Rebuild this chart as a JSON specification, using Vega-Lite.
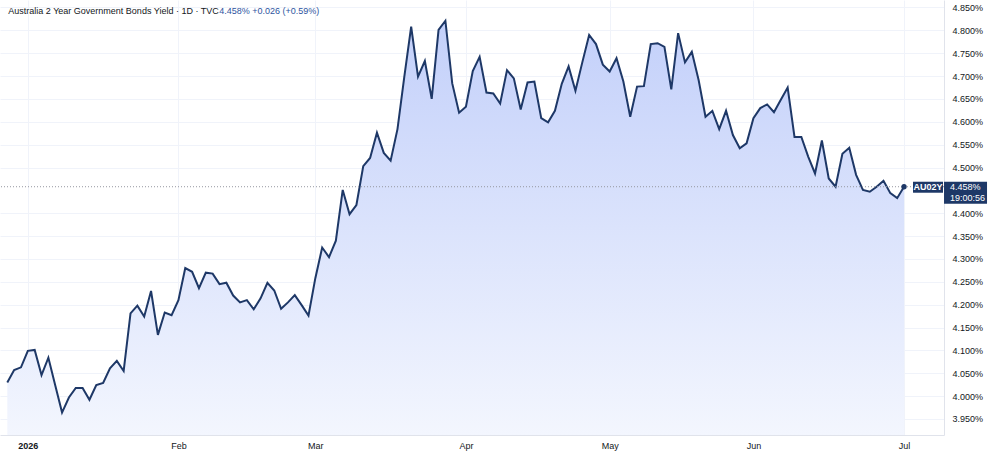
{
  "$schema": "https://vega.github.io/schema/vega-lite/v6.json",
  "width": 944,
  "height": 435,
  "autosize": {"type": "none"},
  "padding": {"left": 0, "top": 0, "right": 56, "bottom": 25},
  "background": "white",
  "config": {"view": {"stroke": null}, "font": "Liberation Sans", "axis": {"labelOverlap": false}},
  "data": {"values": [
    {"n":1,"date":"2025-12-29","yield":4.030},{"n":2,"date":"2025-12-30","yield":4.057},{"n":3,"date":"2025-12-31","yield":4.063},
    {"n":4,"date":"2026-01-01","yield":4.099},{"n":5,"date":"2026-01-02","yield":4.101},{"n":6,"date":"2026-01-05","yield":4.046},
    {"n":7,"date":"2026-01-06","yield":4.084},{"n":8,"date":"2026-01-07","yield":4.024},{"n":9,"date":"2026-01-08","yield":3.964},
    {"n":10,"date":"2026-01-09","yield":3.997},{"n":11,"date":"2026-01-12","yield":4.018},{"n":12,"date":"2026-01-13","yield":4.018},
    {"n":13,"date":"2026-01-14","yield":3.992},{"n":14,"date":"2026-01-15","yield":4.024},{"n":15,"date":"2026-01-16","yield":4.029},
    {"n":16,"date":"2026-01-19","yield":4.061},{"n":17,"date":"2026-01-20","yield":4.077},{"n":18,"date":"2026-01-21","yield":4.055},
    {"n":19,"date":"2026-01-22","yield":4.181},{"n":20,"date":"2026-01-23","yield":4.198},{"n":21,"date":"2026-01-26","yield":4.174},
    {"n":22,"date":"2026-01-27","yield":4.230},{"n":23,"date":"2026-01-28","yield":4.134},{"n":24,"date":"2026-01-29","yield":4.183},
    {"n":25,"date":"2026-01-30","yield":4.177},{"n":26,"date":"2026-02-02","yield":4.210},{"n":27,"date":"2026-02-03","yield":4.280},
    {"n":28,"date":"2026-02-04","yield":4.272},{"n":29,"date":"2026-02-05","yield":4.236},{"n":30,"date":"2026-02-06","yield":4.270},
    {"n":31,"date":"2026-02-09","yield":4.268},{"n":32,"date":"2026-02-10","yield":4.245},{"n":33,"date":"2026-02-11","yield":4.248},
    {"n":34,"date":"2026-02-12","yield":4.220},{"n":35,"date":"2026-02-13","yield":4.205},{"n":36,"date":"2026-02-16","yield":4.210},
    {"n":37,"date":"2026-02-17","yield":4.190},{"n":38,"date":"2026-02-18","yield":4.214},{"n":39,"date":"2026-02-19","yield":4.248},
    {"n":40,"date":"2026-02-20","yield":4.231},{"n":41,"date":"2026-02-23","yield":4.191},{"n":42,"date":"2026-02-24","yield":4.205},
    {"n":43,"date":"2026-02-25","yield":4.221},{"n":44,"date":"2026-02-26","yield":4.199},{"n":45,"date":"2026-02-27","yield":4.176},
    {"n":46,"date":"2026-03-02","yield":4.258},{"n":47,"date":"2026-03-03","yield":4.325},{"n":48,"date":"2026-03-04","yield":4.304},
    {"n":49,"date":"2026-03-05","yield":4.340},{"n":50,"date":"2026-03-06","yield":4.451},{"n":51,"date":"2026-03-09","yield":4.398},
    {"n":52,"date":"2026-03-10","yield":4.418},{"n":53,"date":"2026-03-11","yield":4.503},{"n":54,"date":"2026-03-12","yield":4.521},
    {"n":55,"date":"2026-03-13","yield":4.576},{"n":56,"date":"2026-03-16","yield":4.532},{"n":57,"date":"2026-03-17","yield":4.515},
    {"n":58,"date":"2026-03-18","yield":4.584},{"n":59,"date":"2026-03-19","yield":4.699},{"n":60,"date":"2026-03-20","yield":4.808},
    {"n":61,"date":"2026-03-23","yield":4.699},{"n":62,"date":"2026-03-24","yield":4.733},{"n":63,"date":"2026-03-25","yield":4.650},
    {"n":64,"date":"2026-03-26","yield":4.801},{"n":65,"date":"2026-03-27","yield":4.821},{"n":66,"date":"2026-03-30","yield":4.684},
    {"n":67,"date":"2026-03-31","yield":4.620},{"n":68,"date":"2026-04-01","yield":4.633},{"n":69,"date":"2026-04-02","yield":4.711},
    {"n":70,"date":"2026-04-06","yield":4.742},{"n":71,"date":"2026-04-07","yield":4.664},{"n":72,"date":"2026-04-08","yield":4.662},
    {"n":73,"date":"2026-04-09","yield":4.640},{"n":74,"date":"2026-04-10","yield":4.713},{"n":75,"date":"2026-04-13","yield":4.695},
    {"n":76,"date":"2026-04-14","yield":4.627},{"n":77,"date":"2026-04-15","yield":4.686},{"n":78,"date":"2026-04-16","yield":4.688},
    {"n":79,"date":"2026-04-17","yield":4.608},{"n":80,"date":"2026-04-20","yield":4.599},{"n":81,"date":"2026-04-21","yield":4.624},
    {"n":82,"date":"2026-04-22","yield":4.683},{"n":83,"date":"2026-04-23","yield":4.721},{"n":84,"date":"2026-04-24","yield":4.668},
    {"n":85,"date":"2026-04-27","yield":4.730},{"n":86,"date":"2026-04-28","yield":4.790},{"n":87,"date":"2026-04-29","yield":4.770},
    {"n":88,"date":"2026-04-30","yield":4.725},{"n":89,"date":"2026-05-01","yield":4.710},{"n":90,"date":"2026-05-04","yield":4.739},
    {"n":91,"date":"2026-05-05","yield":4.688},{"n":92,"date":"2026-05-06","yield":4.611},{"n":93,"date":"2026-05-07","yield":4.677},
    {"n":94,"date":"2026-05-08","yield":4.678},{"n":95,"date":"2026-05-11","yield":4.770},{"n":96,"date":"2026-05-12","yield":4.772},
    {"n":97,"date":"2026-05-13","yield":4.764},{"n":98,"date":"2026-05-14","yield":4.671},{"n":99,"date":"2026-05-15","yield":4.794},
    {"n":100,"date":"2026-05-18","yield":4.730},{"n":101,"date":"2026-05-19","yield":4.753},{"n":102,"date":"2026-05-20","yield":4.691},
    {"n":103,"date":"2026-05-21","yield":4.611},{"n":104,"date":"2026-05-22","yield":4.624},{"n":105,"date":"2026-05-25","yield":4.584},
    {"n":106,"date":"2026-05-26","yield":4.624},{"n":107,"date":"2026-05-27","yield":4.571},{"n":108,"date":"2026-05-28","yield":4.542},
    {"n":109,"date":"2026-05-29","yield":4.553},{"n":110,"date":"2026-06-01","yield":4.608},{"n":111,"date":"2026-06-02","yield":4.630},
    {"n":112,"date":"2026-06-03","yield":4.638},{"n":113,"date":"2026-06-04","yield":4.621},{"n":114,"date":"2026-06-05","yield":4.648},
    {"n":115,"date":"2026-06-08","yield":4.675},{"n":116,"date":"2026-06-09","yield":4.567},{"n":117,"date":"2026-06-10","yield":4.567},
    {"n":118,"date":"2026-06-11","yield":4.524},{"n":119,"date":"2026-06-12","yield":4.487},{"n":120,"date":"2026-06-15","yield":4.559},
    {"n":121,"date":"2026-06-16","yield":4.476},{"n":122,"date":"2026-06-17","yield":4.458},{"n":123,"date":"2026-06-18","yield":4.530},
    {"n":124,"date":"2026-06-19","yield":4.543},{"n":125,"date":"2026-06-22","yield":4.484},{"n":126,"date":"2026-06-23","yield":4.451},
    {"n":127,"date":"2026-06-24","yield":4.447},{"n":128,"date":"2026-06-25","yield":4.458},{"n":129,"date":"2026-06-26","yield":4.471},
    {"n":130,"date":"2026-06-29","yield":4.444},{"n":131,"date":"2026-06-30","yield":4.433},{"n":132,"date":"2026-07-01","yield":4.458}
  ]},
  "layer": [
    {
      "mark": {"type": "area", "clip": true, "opacity": 1, "fill": {"gradient": "linear", "x1": 0, "y1": 0, "x2": 0, "y2": 1, "stops": [{"offset": 0, "color": "#c3d0fa"}, {"offset": 1, "color": "#f3f6fe"}]}},
      "encoding": {
        "x": {"field": "n", "type": "quantitative", "scale": {"domain": [-0.066, 137.84], "nice": false, "zero": false},
          "axis": {"title": null, "values": [4, 26, 46, 68, 89, 110, 132], "tickCount": 50,
            "labelExpr": "datum.value == 4 ? '2026' : datum.value == 26 ? 'Feb' : datum.value == 46 ? 'Mar' : datum.value == 68 ? 'Apr' : datum.value == 89 ? 'May' : datum.value == 110 ? 'Jun' : 'Jul'",
            "labelAngle": 0, "labelFontSize": 9, "labelColor": "#131722", "labelPadding": 6, "labelFlush": false,
            "labelFontWeight": {"condition": {"test": "datum.value == 4", "value": "bold"}, "value": "normal"},
            "ticks": false, "domain": true, "domainColor": "#e0e3eb", "grid": true, "gridColor": "#f0f3fa"}},
        "y": {"field": "yield", "type": "quantitative", "scale": {"domain": [3.915, 4.8664], "nice": false, "zero": false},
          "axis": {"title": null, "orient": "right", "tickCount": 50, "values": [3.95,4.0,4.05,4.1,4.15,4.2,4.25,4.3,4.35,4.4,4.5,4.55,4.6,4.65,4.7,4.75,4.8,4.85],
            "labelExpr": "format(datum.value, '.3f') + '%'", "labelFontSize": 9, "labelColor": "#131722",
            "labelPadding": 8, "labelAlign": "left", "labelBaseline": "middle", "labelFlush": false,
            "ticks": false, "domain": true, "domainColor": "#e0e3eb", "grid": true, "gridColor": "#f0f3fa"}},
        "y2": {"datum": 3.915}
      }
    },
    {
      "mark": {"type": "line", "color": "#1e3867", "strokeWidth": 2},
      "encoding": {
        "x": {"field": "n", "type": "quantitative"},
        "y": {"field": "yield", "type": "quantitative"}
      }
    },
    {
      "transform": [{"filter": "datum.n == 132"}],
      "mark": {"type": "rule", "color": "#9598a1", "strokeDash": [1, 2], "strokeWidth": 1},
      "encoding": {"y": {"field": "yield", "type": "quantitative"}}
    },
    {
      "transform": [{"filter": "datum.n == 132"}],
      "mark": {"type": "point", "filled": true, "size": 28, "color": "#1e3867", "opacity": 1},
      "encoding": {
        "x": {"field": "n", "type": "quantitative"},
        "y": {"field": "yield", "type": "quantitative"}
      }
    },
    {
      "transform": [{"filter": "datum.n == 132"}],
      "mark": {"type": "rect", "color": "#1e3867", "xOffset": 9, "x2Offset": 39, "yOffset": -5, "y2Offset": 6},
      "encoding": {
        "x": {"field": "n", "type": "quantitative"},
        "x2": {"field": "n"},
        "y": {"field": "yield", "type": "quantitative"},
        "y2": {"field": "yield"}
      }
    },
    {
      "transform": [{"filter": "datum.n == 132"}],
      "mark": {"type": "rect", "color": "#1e3867", "xOffset": 40, "x2Offset": 83, "yOffset": -5, "y2Offset": 17},
      "encoding": {
        "x": {"field": "n", "type": "quantitative"},
        "x2": {"field": "n"},
        "y": {"field": "yield", "type": "quantitative"},
        "y2": {"field": "yield"}
      }
    },
    {
      "transform": [{"filter": "datum.n == 132"}],
      "mark": {"type": "text", "text": "AU02Y", "color": "white", "fontSize": 9, "fontWeight": "bold", "align": "center", "baseline": "middle", "dx": 24, "dy": 0.5},
      "encoding": {
        "x": {"field": "n", "type": "quantitative"},
        "y": {"field": "yield", "type": "quantitative"}
      }
    },
    {
      "transform": [{"filter": "datum.n == 132"}],
      "mark": {"type": "text", "text": "4.458%", "color": "white", "fontSize": 9, "align": "left", "baseline": "middle", "dx": 46, "dy": 0.5},
      "encoding": {
        "x": {"field": "n", "type": "quantitative"},
        "y": {"field": "yield", "type": "quantitative"}
      }
    },
    {
      "transform": [{"filter": "datum.n == 132"}],
      "mark": {"type": "text", "text": "19:00:56", "color": "white", "fontSize": 9, "align": "left", "baseline": "middle", "dx": 46, "dy": 11},
      "encoding": {
        "x": {"field": "n", "type": "quantitative"},
        "y": {"field": "yield", "type": "quantitative"}
      }
    },
    {
      "transform": [{"filter": "datum.n == 1"}],
      "mark": {"type": "text", "text": "Australia 2 Year Government Bonds Yield · 1D · TVC", "color": "#131722", "fontSize": 9, "align": "left", "baseline": "middle", "dx": 1},
      "encoding": {
        "x": {"field": "n", "type": "quantitative"},
        "y": {"datum": 4.8424}
      }
    },
    {
      "transform": [{"filter": "datum.n == 1"}],
      "mark": {"type": "text", "text": "4.458%  +0.026 (+0.59%)", "color": "#2d54a0", "fontSize": 9, "align": "left", "baseline": "middle", "dx": 212},
      "encoding": {
        "x": {"field": "n", "type": "quantitative"},
        "y": {"datum": 4.8424}
      }
    }
  ]
}
